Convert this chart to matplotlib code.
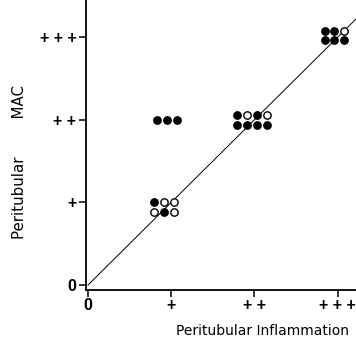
import matplotlib
matplotlib.use("Agg")
import matplotlib.pyplot as plt
import numpy as np

plt.rcParams['font.family'] = ['Liberation Sans', 'DejaVu Sans']

# Grades (0, +, ++, +++)
grade_ticks = [0, 1, 2, 3]
x_tick_labels = ["0", "+", "+ +", "+ + +"]
y_tick_labels = ["0", "+", "+ +", "+ + +"]

# Each cluster: inflammation grade, MAC grade, rows of patients (1 = filled, 0 = open)
cluster_inflammation = [1, 1, 2, 3]
cluster_mac = [1, 2, 2, 3]
cluster_rows = [
    [[1, 0, 0], [0, 1, 0]],
    [[1, 1, 1]],
    [[1, 0, 1, 0], [1, 1, 1, 1]],
    [[1, 1, 0], [1, 1, 1]],
]
# small visual shift of each cluster (as drawn in the original figure)
cluster_shift_x = [-0.09, -0.05, -0.03, -0.04]
cluster_shift_y = [-0.05, 0.0, 0.0, 0.02]

fig = plt.figure(figsize=(3.56, 3.45), dpi=100)
ax = fig.add_axes([86/356, 55/345, 270/356, 290/345])

# identity line
ax.plot([0, 3.6], [0, 3.6], color='black', lw=0.7, zorder=1)

dx = 0.118
dy = 0.12
for gx, gy, rows, sx, sy in zip(cluster_inflammation, cluster_mac, cluster_rows,
                                cluster_shift_x, cluster_shift_y):
    nrows = len(rows)
    for r, row in enumerate(rows):
        ncols = len(row)
        for c, f in enumerate(row):
            px = gx + sx + (c - (ncols - 1) / 2) * dx
            py = gy + sy + ((nrows - 1) / 2 - r) * dy
            ax.scatter([px], [py], s=28,
                       facecolor='black' if f else 'white',
                       edgecolor='black', linewidths=1.0, zorder=3)

ax.set_xlim(-0.024, 3.22)
ax.set_ylim(-0.06, 3.45)
ax.set_xticks(grade_ticks)
ax.set_xticklabels(x_tick_labels, fontsize=11.5, fontweight='bold')
ax.set_yticks(grade_ticks)
ax.set_yticklabels(y_tick_labels, fontsize=11.5, fontweight='bold')
ax.tick_params(direction='out', length=5, width=1.1)
ax.tick_params(axis='x', pad=1)
ax.tick_params(axis='y', pad=2)
for s in ['top', 'right']:
    ax.spines[s].set_visible(False)
for s in ['left', 'bottom']:
    ax.spines[s].set_linewidth(1.3)

fig.text(263/356, 1 - 331/345, "Peritubular Inflammation", ha='center', va='center',
         fontsize=10, family='DejaVu Sans')
fig.text(20/356, 1 - 162/345, "Peritubular        MAC", ha='center', va='center',
         rotation=90, fontsize=10.8, family='DejaVu Sans')

fig.savefig("out.png", dpi=100)
